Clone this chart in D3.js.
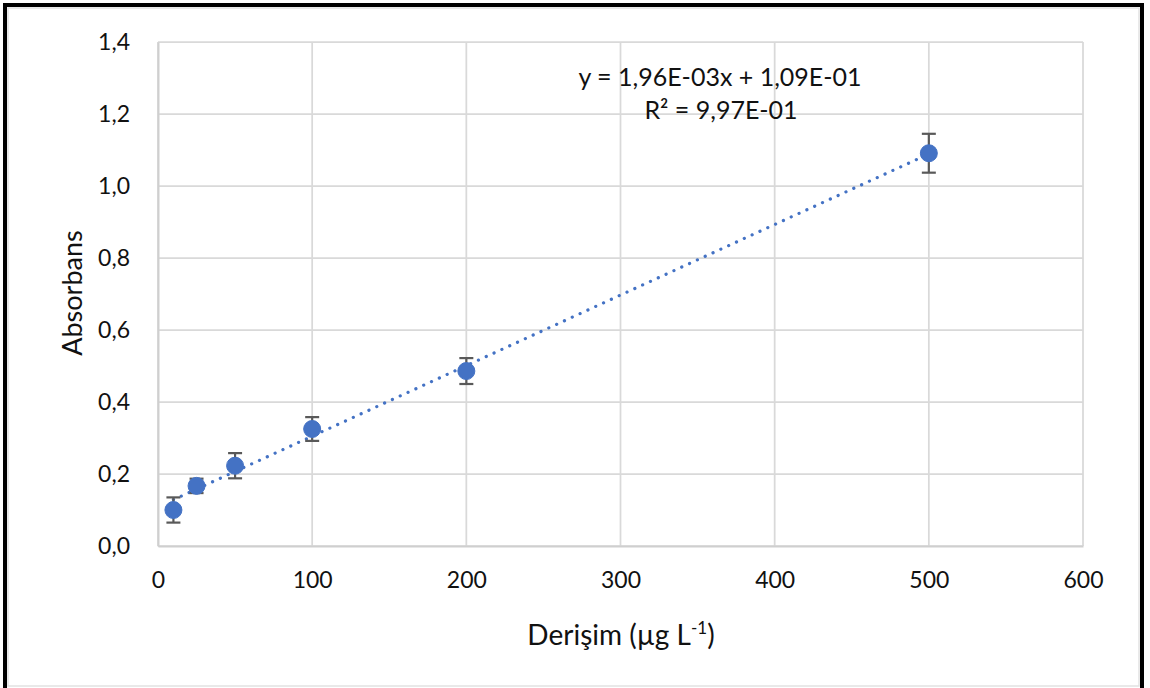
<!DOCTYPE html>
<html>
<head>
<meta charset="utf-8">
<script src="https://cdn.jsdelivr.net/npm/d3@7"></script>
<style>
  html, body { margin: 0; padding: 0; background: #fff; }
  svg { display: block; }
  text { font-family: Lato, "Open Sans", sans-serif; fill: #111; }
</style>
</head>
<body>
<svg id="chart" width="1150" height="688"></svg>
<script>
// Calibration data: concentration (µg/L), mean absorbance, standard deviation
const concentrations = [10, 25, 50, 100, 200, 500];
const absorbance = [0.100, 0.167, 0.223, 0.325, 0.486, 1.091];
const stdDev = [0.035, 0.020, 0.035, 0.033, 0.036, 0.054];

// Linear fit reported on the chart
const slope = 1.96e-3;
const intercept = 1.09e-1;
const equationLabel = "y = 1,96E-03x + 1,09E-01";
const rSquaredValue = "9,97E-01";

const xTicks = [0, 100, 200, 300, 400, 500, 600];
const yTicks = [0, 0.2, 0.4, 0.6, 0.8, 1.0, 1.2, 1.4];

const svg = d3.select("#chart");
const W = 1150, H = 688;

// Frame
svg.append("rect").attr("x", 0).attr("y", 0).attr("width", W).attr("height", H).attr("fill", "#fff");
svg.append("rect").attr("x", 8).attr("y", 8).attr("width", 1131).attr("height", 678)
  .attr("fill", "none").attr("stroke", "#e2e2e2").attr("stroke-width", 1.5);
svg.append("path").attr("d", `M5,${H} V5 H1142 V${H}`)
  .attr("fill", "none").attr("stroke", "#000").attr("stroke-width", 4);

const plot = { left: 158, right: 1083, top: 42, bottom: 546 };
const x = d3.scaleLinear().domain([0, 600]).range([plot.left, plot.right]);
const y = d3.scaleLinear().domain([0, 1.4]).range([plot.bottom, plot.top]);

const fmt = d => d3.format(".1f")(d).replace(".", ",");

// Gridlines
const grid = svg.append("g");
grid.selectAll("line.h").data(yTicks).join("line")
  .attr("x1", plot.left).attr("x2", plot.right)
  .attr("y1", d => y(d)).attr("y2", d => y(d))
  .attr("stroke", "#d9d9d9").attr("stroke-width", 1.75);
grid.selectAll("line.v").data(xTicks).join("line")
  .attr("y1", plot.top).attr("y2", plot.bottom)
  .attr("x1", d => x(d)).attr("x2", d => x(d))
  .attr("stroke", "#d9d9d9").attr("stroke-width", 1.75);

// Axes (labels via d3 axes, no tick marks)
const xAxis = svg.append("g").attr("transform", `translate(0,${plot.bottom})`)
  .call(d3.axisBottom(x).tickValues(xTicks).tickSize(0).tickPadding(26).tickFormat(d3.format("d")));
const yAxis = svg.append("g").attr("transform", `translate(${plot.left},0)`)
  .call(d3.axisLeft(y).tickValues(yTicks).tickSize(0).tickPadding(28).tickFormat(fmt));
[xAxis, yAxis].forEach(g => {
  g.select(".domain").attr("stroke", "#cfcfcf").attr("stroke-width", 2);
  g.selectAll("text").attr("font-size", 23).attr("fill", "#111")
    .style("font-family", "Lato, 'Open Sans', sans-serif");
});

// Trendline (dotted), spans the data range
const xr = d3.extent(concentrations);
svg.append("line")
  .attr("x1", x(xr[0])).attr("y1", y(slope * xr[0] + intercept))
  .attr("x2", x(xr[1])).attr("y2", y(slope * xr[1] + intercept))
  .attr("stroke", "#4472c4").attr("stroke-width", 3.2)
  .attr("stroke-linecap", "round").attr("stroke-dasharray", "0.1 8.5");

const pts = concentrations.map((c, i) => ({ c, a: absorbance[i], s: stdDev[i] }));

// Error bars
const eb = svg.append("g").attr("stroke", "#595959").attr("stroke-width", 2.2);
eb.selectAll("line.v").data(pts).join("line")
  .attr("x1", d => x(d.c)).attr("x2", d => x(d.c))
  .attr("y1", d => y(d.a - d.s)).attr("y2", d => y(d.a + d.s));
eb.selectAll("line.t").data(pts).join("line")
  .attr("x1", d => x(d.c) - 7).attr("x2", d => x(d.c) + 7)
  .attr("y1", d => y(d.a + d.s)).attr("y2", d => y(d.a + d.s));
eb.selectAll("line.b").data(pts).join("line")
  .attr("x1", d => x(d.c) - 7).attr("x2", d => x(d.c) + 7)
  .attr("y1", d => y(d.a - d.s)).attr("y2", d => y(d.a - d.s));

// Markers
svg.append("g").selectAll("circle").data(pts).join("circle")
  .attr("cx", d => x(d.c)).attr("cy", d => y(d.a)).attr("r", 8.5)
  .attr("fill", "#4472c4").attr("stroke", "#4472c4").attr("stroke-width", 1);

// Equation and R²
svg.append("text").attr("x", 720).attr("y", 86).attr("text-anchor", "middle")
  .attr("font-size", 25).text(equationLabel);
svg.append("text").attr("x", 721).attr("y", 119).attr("text-anchor", "middle")
  .attr("font-size", 25).text("R² = " + rSquaredValue);

// Axis titles
const xt = svg.append("text").attr("x", 621).attr("y", 645).attr("text-anchor", "middle")
  .attr("font-size", 28);
xt.append("tspan").text("Derişim (µg L");
xt.append("tspan").attr("font-size", 17).attr("dy", -11).text("-1");
xt.append("tspan").attr("dy", 11).text(")");

svg.append("text").attr("transform", "translate(82,293) rotate(-90)")
  .attr("text-anchor", "middle").attr("font-size", 27).text("Absorbans");
</script>
</body>
</html>
